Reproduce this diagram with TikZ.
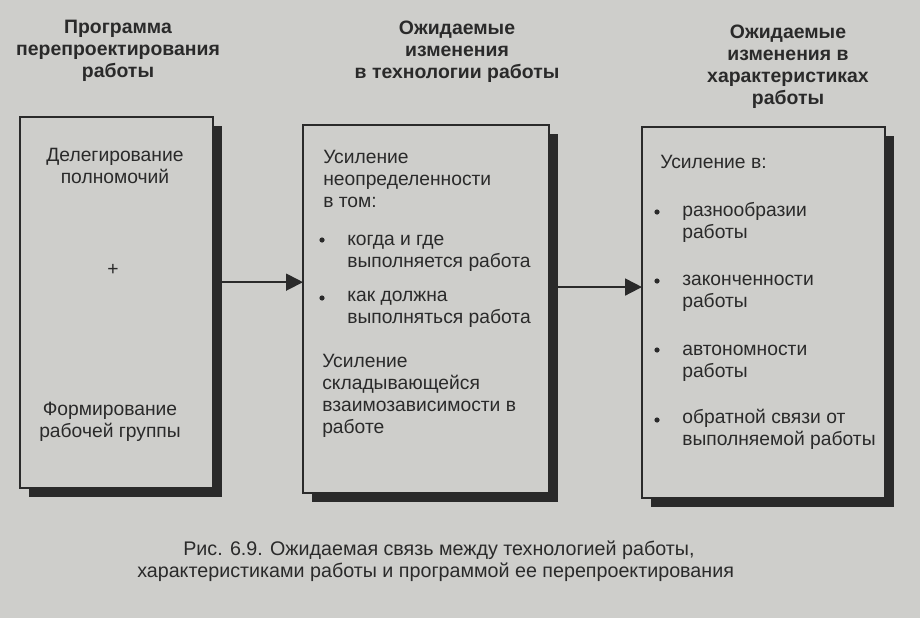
\documentclass[tikz,border=0pt]{standalone}
\usepackage{fontspec}
\setmainfont{Liberation Sans}
\usetikzlibrary{
  arrows.meta,
  positioning,
  shadows
}
\definecolor{ScanGray}{RGB}{206,206,203}
\definecolor{InkGray}{RGB}{42,42,42}
\tikzset{
  stagebox/.style={draw=InkGray,fill=ScanGray,line width=1pt,anchor=north west,inner sep=0pt,outer sep=0pt,drop shadow={shadow xshift=2.2mm,shadow yshift=-2.2mm,fill=InkGray,opacity=1}},
  headtext/.style={anchor=base,align=center,inner sep=0pt,text=InkGray,font=\fontsize{13.8}{15.6}\selectfont\bfseries},
  bodytext/.style={anchor=base west,align=left,inner sep=0pt,text=InkGray,font=\fontsize{13.7}{15.5}\selectfont},
  centertext/.style={bodytext,anchor=base,align=center},
  dotmark/.style={circle,fill=InkGray,inner sep=0pt,minimum size=1.3mm},
  flowarrow/.style={-{Triangle[length=4.2mm,width=4.2mm]},line width=1.3pt,draw=InkGray},
  captext/.style={anchor=base west,align=left,inner sep=0pt,text=InkGray,font=\fontsize{14}{15.6}\selectfont}
}

\begin{document}
\begin{tikzpicture}[x=0.025cm,y=-0.025cm]
\fill[ScanGray] (0,0) rectangle (920,618);
\useasboundingbox (0,0) rectangle (920,618);

\node[headtext] (head1) at (118,77) {Программа\\перепроектирования\\работы};
\node[headtext] (head2) at (457,78) {Ожидаемые\\изменения\\в технологии работы};
\node[headtext] (head3) at (788,104) {Ожидаемые\\изменения в\\характеристиках\\работы};

\node[stagebox,minimum width=4.825cm,minimum height=9.275cm] (prog) at (20,117) {};
\node[stagebox,minimum width=6.15cm,minimum height=9.2cm] (tech) at (303,125) {};
\node[stagebox,minimum width=6.075cm,minimum height=9.275cm] (chars) at (642,127) {};

\node[centertext] (deleg) at (115,183) {Делегирование\\полномочий};
\node[bodytext,anchor=center] (plus) at (113,270) {+};
\node[centertext] (group) at (110,437) {Формирование\\рабочей группы};

\node[bodytext] (uncert) at (323,207) {Усиление\\неопределенности\\в том:};
\node[dotmark] (dotA) at (322,240) {};
\node[bodytext] (whenwhere) at (347,267) {когда и где\\выполняется работа};
\node[dotmark] (dotB) at (322,298) {};
\node[bodytext] (howdone) at (347,323) {как должна\\выполняться работа};
\node[bodytext] (interdep) at (322,433) {Усиление\\складывающейся\\взаимозависимости в\\работе};

\node[bodytext] (gain) at (660,168) {Усиление в:};
\node[dotmark] (dotC) at (657,212) {};
\node[bodytext] (variety) at (682,238) {разнообразии\\работы};
\node[dotmark] (dotD) at (657,281) {};
\node[bodytext] (complete) at (682,307) {законченности\\работы};
\node[dotmark] (dotE) at (657,350) {};
\node[bodytext] (autonomy) at (682,377) {автономности\\работы};
\node[dotmark] (dotF) at (657,420) {};
\node[bodytext] (feedback) at (682,445) {обратной связи от\\выполняемой работы};

\draw[flowarrow] ([yshift=0.51cm]prog.east) -- ([yshift=0.51cm]prog.east -| tech.west);
\draw[flowarrow] ([yshift=0.55cm]tech.east) -- ([yshift=0.55cm]tech.east -| chars.west);

\node[captext] (caption) at (137,577) {\hspace*{1.15cm}Рис. 6.9. Ожидаемая связь между технологией работы,\\характеристиками работы и программой ее перепроектирования};
\end{tikzpicture}
\end{document}
